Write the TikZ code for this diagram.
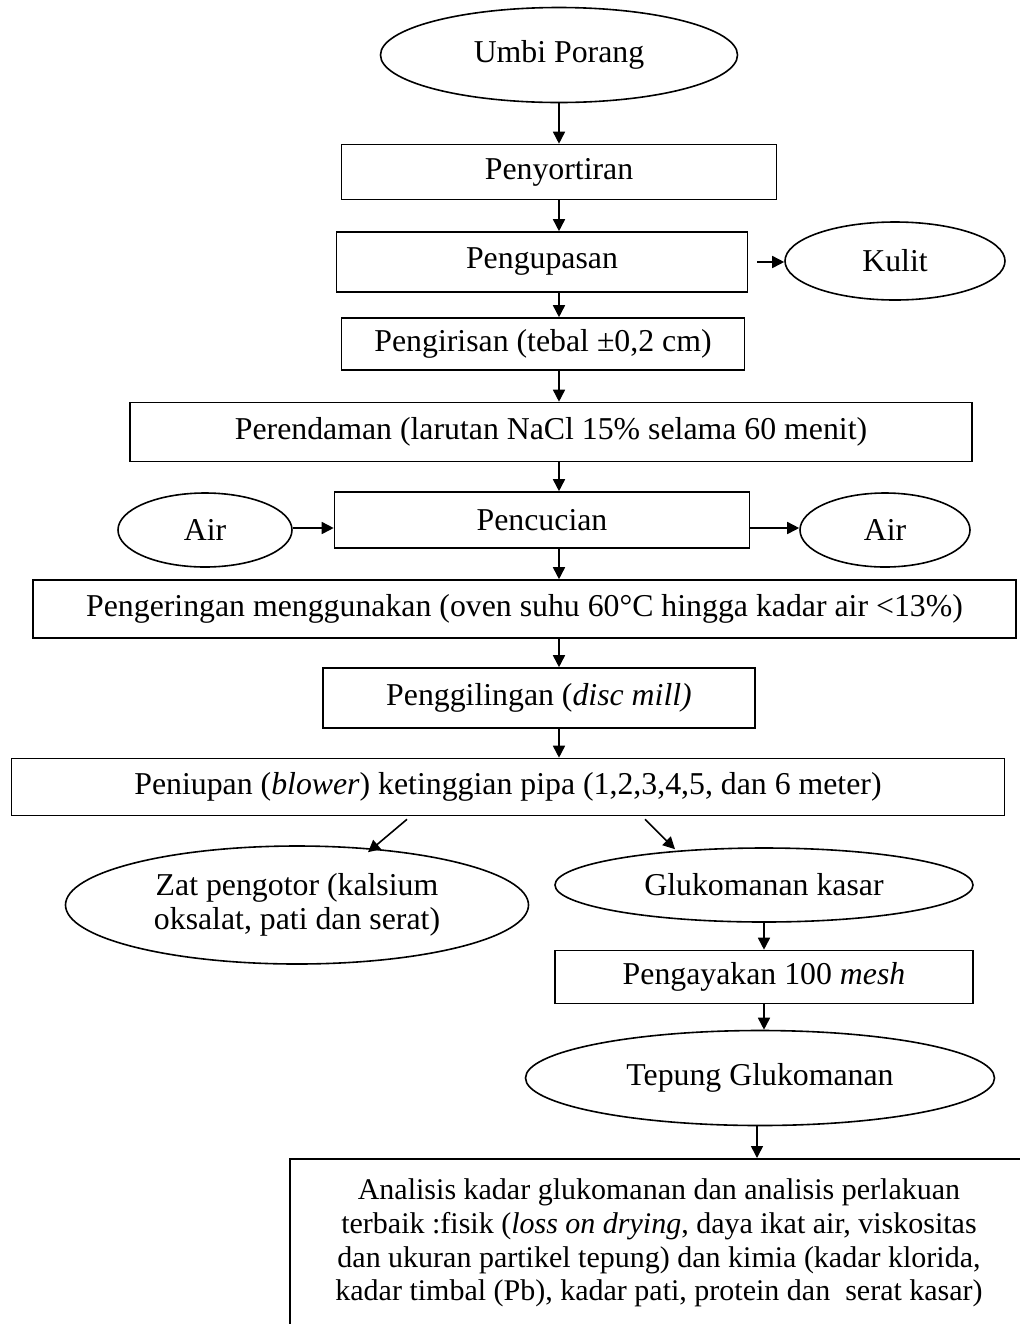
\documentclass[tikz,border=0pt]{standalone}
\usepackage{fontspec}
\setmainfont{Liberation Serif}
\usetikzlibrary{shapes.geometric,arrows.meta}
\begin{document}
\begin{tikzpicture}[x=0.5pt,y=-0.5pt,
  every node/.style={font=\fontsize{15.9}{17}\selectfont, line width=0.8pt},
  box/.style={draw, rectangle, inner sep=0pt},
  oval/.style={draw, ellipse, inner sep=0pt},
  arr/.style={line width=0.8pt, -{Triangle[length=6pt,width=6pt]}}]
\useasboundingbox (0,0) rectangle (1019,1324);
\node[oval, minimum width=178.5pt, minimum height=47.5pt] (umbi) at (559,55) {Umbi Porang};
\node[box, minimum width=217.5pt, minimum height=27.5pt] (sortir) at (559,172) {Penyortiran};
\node[box, minimum width=205.5pt, minimum height=30pt] (kupas) at (542,262) {Pengupasan};
\node[oval, minimum width=110pt, minimum height=39pt] (kulit) at (895,261) {Kulit};
\node[box, minimum width=201.5pt, minimum height=26pt] (iris) at (543,344) {Pengirisan (tebal ±0,2 cm)};
\node[box, minimum width=421pt, minimum height=29.5pt] (rendam) at (551,432) {Perendaman (larutan NaCl 15\% selama 60 menit)};
\node[box, minimum width=207.5pt, minimum height=28pt] (cuci) at (542,520) {Pencucian};
\node[oval, minimum width=87pt, minimum height=37pt] (airin) at (205,530) {Air};
\node[oval, minimum width=85pt, minimum height=37pt] (airout) at (885,530) {Air};
\node[box, minimum width=491.5pt, minimum height=29pt] (kering) at (524.5,609) {Pengeringan menggunakan (oven suhu 60°C hingga kadar air <13\%)};
\node[box, minimum width=216pt, minimum height=30pt] (giling) at (539,698) {Penggilingan (\textit{disc mill)}};
\node[box, minimum width=496.5pt, minimum height=28.5pt] (tiup) at (508,787) {Peniupan (\textit{blower}) ketinggian pipa (1,2,3,4,5, dan 6 meter)};
\node[oval, minimum width=231.5pt, minimum height=59pt, align=center] (zat) at (297,905) {Zat pengotor (kalsium\\oksalat, pati dan serat)};
\node[oval, minimum width=209pt, minimum height=37pt] (kasar) at (764,885) {Glukomanan kasar};
\node[box, minimum width=209pt, minimum height=26.5pt] (ayak) at (764,977) {Pengayakan 100 \textit{mesh}};
\node[oval, minimum width=234.5pt, minimum height=47.5pt] (tepung) at (760,1078) {Tepung Glukomanan};
\node[box, minimum width=369pt, minimum height=110pt, anchor=north] (analisis) at (659,1158) {};
\node[align=center, font=\fontsize{15}{16.8}\selectfont] (analisistext) at (659,1243) {Analisis kadar glukomanan dan analisis perlakuan\\
terbaik :fisik (\textit{loss on drying}, daya ikat air, viskositas\\
dan ukuran partikel tepung) dan kimia (kadar klorida,\\
kadar timbal (Pb), kadar pati, protein dan \ serat kasar)};
\draw[arr] (umbi.south) -- (sortir.north);
\draw[arr] (sortir.south) -- (sortir.south |- kupas.north);
\draw[arr] ([xshift=4.5pt]kupas.east) -- (kulit.west |- kupas.east);
\draw[arr] (sortir.south |- kupas.south) -- (sortir.south |- iris.north);
\draw[arr] (sortir.south |- iris.south) -- (sortir.south |- rendam.north);
\draw[arr] (sortir.south |- rendam.south) -- (sortir.south |- cuci.north);
\draw[arr] ([yshift=1pt]airin.east) -- ([yshift=1pt]airin.east -| cuci.west);
\draw[arr] ([yshift=1pt]airout.west -| cuci.east) -- ([yshift=1pt]airout.west);
\draw[arr] (sortir.south |- cuci.south) -- (sortir.south |- kering.north);
\draw[arr] (sortir.south |- kering.south) -- (sortir.south |- giling.north);
\draw[arr] (sortir.south |- giling.south) -- (sortir.south |- tiup.north);
\draw[arr] ([xshift=-50.5pt,yshift=-1.5pt]tiup.south) -- ([xshift=35.5pt,yshift=-3.5pt]zat.north);
\draw[arr] ([xshift=68.5pt,yshift=-1.5pt]tiup.south) -- ([xshift=-44.5pt,yshift=-1pt]kasar.north);
\draw[arr] (kasar.south) -- (kasar.south |- ayak.north);
\draw[arr] (kasar.south |- ayak.south) -- (kasar.south |- tepung.north);
\draw[arr] ([xshift=-1.5pt]tepung.south) -- ([xshift=-1.5pt]tepung.south |- analisis.north);
\end{tikzpicture}
\end{document}
